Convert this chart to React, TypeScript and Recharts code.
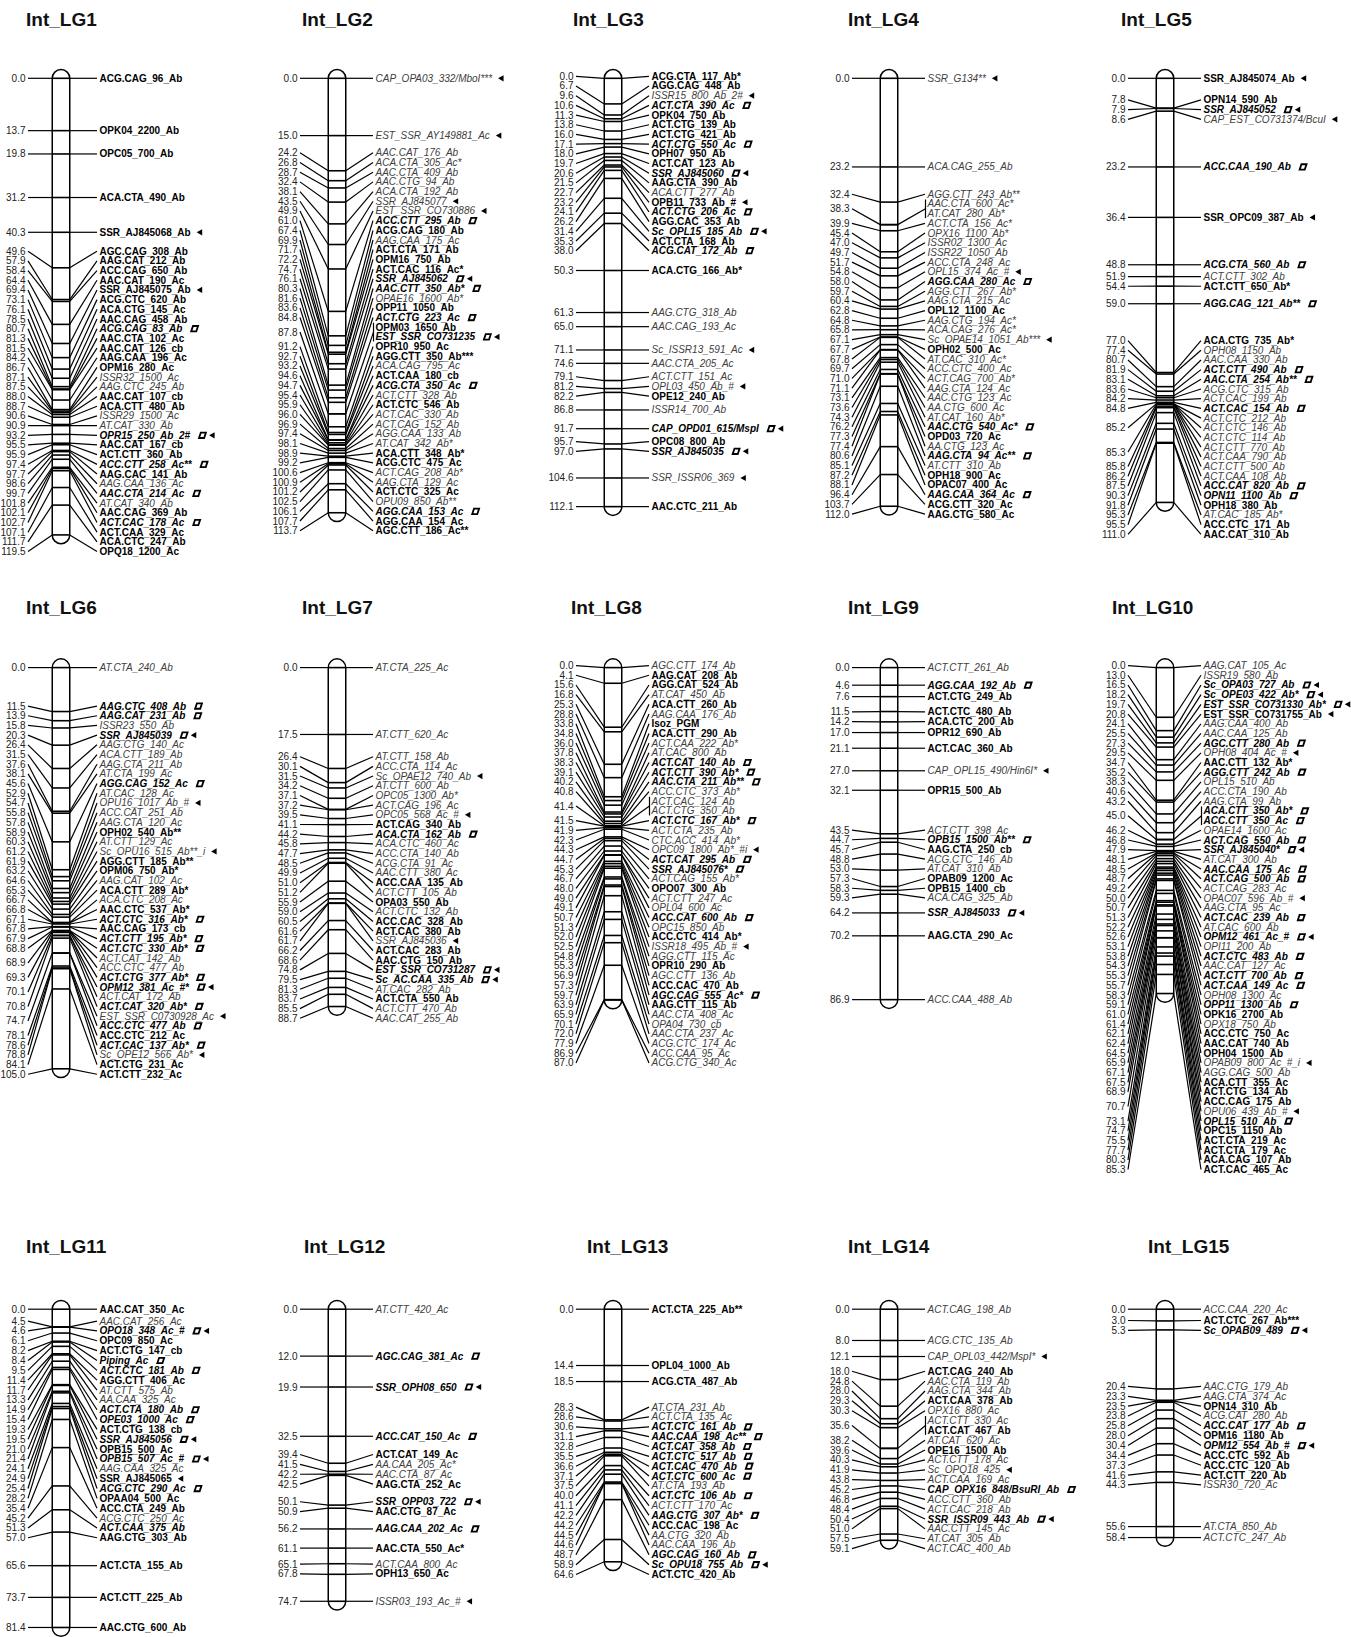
import React from "react";
import { ScatterChart, Scatter, XAxis, YAxis, ReferenceArea } from "recharts";

// Row: [position cM, marker name, marker class (1 = bold, 2 = italic, 3 = bold italic), flags ("s" = square, "t" = triangle), joined-with-previous]
type Row = [number, string, number, string, number?];

const LG1: Row[] = [
  [0.0, "ACG.CAG_96_Ab", 1, ""], [13.7, "OPK04_2200_Ab", 1, ""], [19.8, "OPC05_700_Ab", 1, ""],
  [31.2, "ACA.CTA_490_Ab", 1, ""], [40.3, "SSR_AJ845068_Ab", 1, "t"], [49.6, "AGC.CAG_308_Ab", 1, ""],
  [57.9, "AAG.CAT_212_Ab", 1, ""], [58.4, "ACC.CAG_650_Ab", 1, ""], [64.4, "AAC.CAT_190_Ac", 1, ""],
  [69.4, "SSR_AJ845075_Ab", 1, "t"], [73.1, "ACG.CTC_620_Ab", 1, ""], [76.1, "ACA.CTG_145_Ac", 1, ""],
  [78.5, "AAC.CAG_458_Ab", 1, ""], [80.7, "ACG.CAG_83_Ab", 3, "s"], [81.3, "AAC.CTA_102_Ac", 1, ""],
  [81.5, "AAC.CAT_126_cb", 1, ""], [84.2, "AAG.CAA_196_Ac", 1, ""], [86.7, "OPM16_280_Ac", 1, ""],
  [87.1, "ISSR32_1500_Ac", 2, ""], [87.5, "AAG.CTC_245_Ab", 2, ""], [88.0, "AAC.CAT_107_cb", 1, ""],
  [88.7, "ACA.CTT_480_Ab", 1, ""], [90.6, "ISSR29_1500_Ac", 2, ""], [90.9, "AT.CAT_330_Ab", 2, ""],
  [93.2, "OPR15_250_Ab_2#", 3, "st"], [95.5, "AAC.CAT_167_cb", 1, ""], [95.9, "ACT.CTT_360_Ab", 1, ""],
  [97.4, "ACC.CTT_258_Ac**", 3, "s"], [97.7, "AAG.CAC_141_Ab", 1, ""], [98.6, "AAG.CAA_136_Ac", 2, ""],
  [99.7, "AAC.CTA_214_Ac", 3, "s"], [101.8, "AT.CAT_340_Ab", 2, ""], [102.1, "AAC.CAG_369_Ab", 1, ""],
  [102.7, "ACT.CAC_178_Ac", 3, "s"], [107.1, "ACT.CAA_329_Ac", 1, ""], [111.7, "ACA.CTC_247_Ab", 1, ""],
  [119.5, "OPQ18_1200_Ac", 1, ""],
];

const LG2: Row[] = [
  [0.0, "CAP_OPA03_332/MboI***", 2, "t"], [15.0, "EST_SSR_AY149881_Ac", 2, "t"], [24.2, "AAC.CAT_176_Ab", 2, ""],
  [26.8, "ACA.CTA_305_Ac*", 2, ""], [28.7, "AAC.CTA_409_Ab", 2, ""], [32.4, "AAC.CTG_94_Ab", 2, ""],
  [38.1, "ACA.CTA_192_Ab", 2, ""], [43.5, "SSR_AJ845077", 2, "t"], [49.9, "EST_SSR_CO730886", 2, "t"],
  [61.0, "ACC.CTT_295_Ab", 3, "s"], [67.4, "ACG.CAG_180_Ab", 1, ""], [69.9, "AAG.CAA_175_Ac", 2, ""],
  [71.7, "ACT.CTA_171_Ab", 1, ""], [72.2, "OPM16_750_Ab", 1, ""], [74.7, "ACT.CAC_116_Ac*", 1, ""],
  [76.1, "SSR_AJ845062", 3, "st"], [80.3, "AAC.CTT_350_Ab*", 3, "s"], [81.6, "OPAE16_1600_Ab*", 2, ""],
  [83.6, "OPP11_1050_Ab", 1, ""], [84.8, "ACT.CTG_223_Ac", 3, "s"], [87.8, "OPM03_1650_Ab", 1, ""],
  [87.8, "EST_SSR_CO731235", 3, "st", 1], [91.2, "OPR10_950_Ac", 1, ""], [92.7, "AGG.CTT_350_Ab***", 1, ""],
  [93.2, "ACA.CAG_795_Ac", 2, ""], [94.6, "ACT.CAA_180_cb", 1, ""], [94.7, "ACG.CTA_350_Ac", 3, "s"],
  [95.4, "ACT.CTT_328_Ab", 2, ""], [95.9, "ACT.CTC_546_Ab", 1, ""], [96.0, "ACT.CAC_330_Ab", 2, ""],
  [96.9, "ACT.CAG_152_Ab", 2, ""], [97.4, "AGG.CAA_133_Ab", 2, ""], [98.1, "AT.CAT_342_Ab*", 2, ""],
  [98.9, "ACA.CTT_348_Ab*", 1, ""], [99.2, "ACG.CTC_475_Ac", 1, ""], [100.6, "ACT.CAG_208_Ab*", 2, ""],
  [100.9, "AAG.CTA_129_Ac", 2, ""], [101.2, "ACT.CTC_325_Ac", 1, ""], [102.5, "OPU09_850_Ab**", 2, ""],
  [106.1, "AGG.CAA_153_Ac", 3, "s"], [107.7, "AGG.CAA_154_Ac", 1, ""], [113.7, "AGC.CTT_186_Ac**", 1, ""],
];

const LG3: Row[] = [
  [0.0, "ACG.CTA_117_Ab*", 1, ""], [6.7, "AGG.CAG_448_Ab", 1, ""], [9.6, "ISSR15_800_Ab_2#", 2, "t"],
  [10.6, "ACT.CTA_390_Ac", 3, "s"], [11.3, "OPK04_750_Ab", 1, ""], [13.8, "ACT.CTG_139_Ab", 1, ""],
  [16.0, "ACT.CTG_421_Ab", 1, ""], [17.1, "ACT.CTG_550_Ac", 3, "s"], [18.0, "OPH07_950_Ab", 1, ""],
  [19.7, "ACT.CAT_123_Ab", 1, ""], [20.6, "SSR_AJ845060", 3, "st"], [21.5, "AAG.CTA_390_Ab", 1, ""],
  [22.7, "ACA.CTT_277_Ab", 2, ""], [23.2, "OPB11_733_Ab_#", 1, "t"], [24.1, "ACT.CTG_206_Ac", 3, "s"],
  [26.2, "AGG.CAC_353_Ab", 1, ""], [31.4, "Sc_OPL15_185_Ab", 3, "st"], [35.3, "ACT.CTA_168_Ab", 1, ""],
  [38.0, "ACG.CAT_172_Ab", 3, "s"], [50.3, "ACA.CTG_166_Ab*", 1, ""], [61.3, "AAG.CTG_318_Ab", 2, ""],
  [65.0, "AAC.CAG_193_Ac", 2, ""], [71.1, "Sc_ISSR13_591_Ac", 2, "t"], [74.6, "AAC.CTA_205_Ac", 2, ""],
  [79.1, "ACT.CTT_151_Ac", 2, ""], [81.2, "OPL03_450_Ab_#", 2, "t"], [82.2, "OPE12_240_Ab", 1, ""],
  [86.8, "ISSR14_700_Ab", 2, ""], [91.7, "CAP_OPD01_615/MspI", 3, "st"], [95.7, "OPC08_800_Ab", 1, ""],
  [97.0, "SSR_AJ845035", 3, "st"], [104.6, "SSR_ISSR06_369", 2, "t"], [112.1, "AAC.CTC_211_Ab", 1, ""],
];

const LG4: Row[] = [
  [0.0, "SSR_G134**", 2, "t"], [23.2, "ACA.CAG_255_Ab", 2, ""], [32.4, "AGG.CTT_243_Ab**", 2, ""],
  [38.3, "AAC.CTA_600_Ac*", 2, ""], [38.3, "AT.CAT_280_Ab*", 2, "", 1], [39.9, "ACT.CTA_156_Ac*", 2, ""],
  [45.4, "OPX16_1100_Ab*", 2, ""], [47.0, "ISSR02_1300_Ac", 2, ""], [49.7, "ISSR22_1050_Ab", 2, ""],
  [51.7, "ACC.CTA_248_Ac", 2, ""], [54.8, "OPL15_374_Ac_#", 2, "t"], [58.0, "AGG.CAA_280_Ac", 3, "s"],
  [59.7, "AGG.CTT_267_Ab*", 2, ""], [60.4, "AAG.CTA_215_Ac", 2, ""], [62.8, "OPL12_1100_Ac", 1, ""],
  [64.8, "AAG.CTG_194_Ac*", 2, ""], [65.8, "ACA.CAG_276_Ac*", 2, ""], [67.1, "Sc_OPAE14_1051_Ab***", 2, "t"],
  [67.7, "OPH02_500_Ac", 1, ""], [67.8, "AT.CAC_310_Ac*", 2, ""], [69.7, "ACC.CTC_400_Ac", 2, ""],
  [71.0, "ACT.CAG_700_Ab*", 2, ""], [71.1, "AAG.CTA_124_Ac", 2, ""], [73.1, "AAC.CTG_123_Ac", 2, ""],
  [73.6, "AA.CTG_600_Ac", 2, ""], [74.3, "AT.CAT_160_Ab*", 2, ""], [76.2, "AAC.CTG_540_Ac*", 3, "s"],
  [77.3, "OPD03_720_Ac", 1, ""], [77.4, "AA.CTG_123_Ac", 2, ""], [80.6, "AAG.CTA_94_Ac**", 3, "s"],
  [85.1, "AT.CTT_310_Ab", 2, ""], [87.2, "OPH18_900_Ac", 1, ""], [88.1, "OPAC07_400_Ac", 1, ""],
  [96.4, "AAG.CAA_364_Ac", 3, "s"], [103.7, "ACG.CTT_320_Ac", 1, ""], [112.0, "AAG.CTG_580_Ac", 1, ""],
];

const LG5: Row[] = [
  [0.0, "SSR_AJ845074_Ab", 1, "t"], [7.8, "OPN14_590_Ab", 1, ""], [7.9, "SSR_AJ845052", 3, "st"],
  [8.6, "CAP_EST_CO731374/BcuI", 2, "t"], [23.2, "ACC.CAA_190_Ab", 3, "s"], [36.4, "SSR_OPC09_387_Ab", 1, "t"],
  [48.8, "ACG.CTA_560_Ab", 3, "s"], [51.9, "ACT.CTT_302_Ab", 2, ""], [54.4, "ACT.CTT_650_Ab*", 1, ""],
  [59.0, "AGG.CAG_121_Ab**", 3, "s"], [77.0, "ACA.CTG_735_Ab*", 1, ""], [77.4, "OPH08_1150_Ab", 2, ""],
  [80.7, "AAC.CAA_330_Ab", 2, ""], [81.9, "ACT.CTT_490_Ab", 3, "s"], [83.1, "AAC.CTA_254_Ab**", 3, "s"],
  [83.6, "ACG.CTC_315_Ab", 2, ""], [84.2, "ACT.CAC_199_Ab", 2, ""], [84.8, "ACT.CAC_154_Ab", 3, "s"],
  [85.2, "ACT.CTC_212_Ab", 2, ""], [85.2, "ACT.CTC_146_Ab", 2, ""], [85.2, "ACT.CTC_114_Ab", 2, ""],
  [85.3, "ACT.CTT_770_Ab", 2, ""], [85.3, "ACT.CAA_790_Ab", 2, ""], [85.8, "ACT.CTT_500_Ab", 2, ""],
  [86.2, "ACT.CAA_108_Ab", 2, ""], [87.5, "ACC.CAT_820_Ab", 3, "s"], [90.3, "OPN11_1100_Ab", 3, "s"],
  [91.8, "OPH18_380_Ab", 1, ""], [95.3, "AT.CAC_185_Ab*", 2, ""], [95.5, "ACC.CTC_171_Ab", 1, ""],
  [111.0, "AAC.CAT_310_Ab", 1, ""],
];

const LG6: Row[] = [
  [0.0, "AT.CTA_240_Ab", 2, ""], [11.5, "AAG.CTC_408_Ab", 3, "s"], [13.9, "AAG.CAT_231_Ab", 3, "s"],
  [15.8, "ISSR23_550_Ab", 2, ""], [20.3, "SSR_AJ845039", 3, "st"], [26.4, "AAG.CTG_140_Ac", 2, ""],
  [31.5, "ACA.CTT_189_Ab", 2, ""], [37.6, "AAG.CTA_211_Ab", 2, ""], [38.1, "AT.CTA_199_Ac", 2, ""],
  [45.6, "AGG.CAG_152_Ac", 3, "s"], [52.9, "AT.CAC_128_Ac", 2, ""], [54.7, "OPU16_1017_Ab_#", 2, "t"],
  [55.8, "ACC.CAT_251_Ab", 2, ""], [57.8, "AAG.CTA_120_Ac", 2, ""], [58.9, "OPH02_540_Ab**", 1, ""],
  [60.3, "AT.CTT_129_Ac", 2, ""], [61.2, "Sc_OPU16_515_Ab**_i", 2, "t"], [61.9, "AGG.CTT_185_Ab**", 1, ""],
  [63.2, "OPM06_750_Ab*", 1, ""], [64.6, "AAG.CAT_102_Ac", 2, ""], [65.3, "ACA.CTT_289_Ab*", 1, ""],
  [66.7, "ACA.CTC_208_Ac", 2, ""], [66.8, "AAC.CTC_537_Ab*", 1, ""], [67.1, "ACT.CTC_316_Ab*", 3, "s"],
  [67.8, "AAC.CAG_173_cb", 1, ""], [67.9, "ACT.CTT_195_Ab*", 3, "s"], [68.8, "ACT.CTC_330_Ab*", 3, "s"],
  [68.9, "ACT.CAT_142_Ab", 2, ""], [68.9, "ACC.CTC_477_Ab", 2, ""], [69.3, "ACT.CTG_377_Ab*", 3, "s"],
  [70.1, "OPM12_381_Ac_#*", 3, "st"], [70.1, "ACT.CAT_172_Ab", 2, ""], [70.8, "ACT.CAT_320_Ab*", 3, "s"],
  [74.7, "EST_SSR_C0730928_Ac", 2, "t"], [74.7, "ACC.CTC_477_Ab", 3, "s"], [78.1, "ACC.CTC_212_Ac", 1, ""],
  [78.6, "ACT.CAC_137_Ab*", 3, "s"], [78.8, "Sc_OPE12_566_Ab*", 2, "t"], [84.1, "ACT.CTG_231_Ac", 1, ""],
  [105.0, "ACT.CTT_232_Ac", 1, ""],
];

const LG7: Row[] = [
  [0.0, "AT.CTA_225_Ac", 2, ""], [17.5, "AT.CTT_620_Ac", 2, ""], [26.4, "AT.CTT_158_Ab", 2, ""],
  [30.1, "ACC.CTA_114_Ac", 2, ""], [31.5, "Sc_OPAE12_740_Ab", 2, "t"], [34.2, "AT.CTT_600_Ab", 2, ""],
  [37.1, "OPC05_1300_Ab*", 2, ""], [37.2, "ACT.CAG_196_Ac", 2, ""], [39.5, "OPC05_568_Ac_#", 2, "t"],
  [41.1, "ACT.CAG_340_Ab", 1, ""], [44.2, "ACA.CTA_162_Ab", 3, "s"], [45.8, "ACA.CTC_460_Ac", 2, ""],
  [47.7, "ACC.CTA_140_Ab", 2, ""], [48.5, "ACG.CTA_91_Ac", 2, ""], [49.9, "AAC.CTT_380_Ac", 2, ""],
  [51.0, "ACC.CAA_135_Ab", 1, ""], [51.2, "ACT.CTT_105_Ab", 2, ""], [55.9, "OPA03_550_Ab", 1, ""],
  [59.0, "ACT.CTC_132_Ab", 2, ""], [60.5, "ACC.CAC_328_Ab", 1, ""], [61.6, "ACT.CAC_380_Ab", 1, ""],
  [61.7, "SSR_AJ845036", 2, "t"], [66.2, "ACT.CAC_283_Ab", 1, ""], [68.6, "AAC.CTG_150_Ab", 1, ""],
  [74.8, "EST_SSR_CO731287", 3, "st"], [79.5, "Sc_AC.CAA_335_Ab", 3, "st"], [81.3, "AT.CAC_282_Ab", 2, ""],
  [83.7, "ACT.CTA_550_Ab", 1, ""], [85.5, "ACT.CTT_470_Ab", 2, ""], [88.7, "AAC.CAT_255_Ab", 2, ""],
];

const LG8: Row[] = [
  [0.0, "AGC.CTT_174_Ab", 2, ""], [4.1, "AAG.CAT_208_Ab", 1, ""], [15.6, "AGG.CAT_524_Ab", 1, ""],
  [16.8, "AT.CAT_450_Ab", 2, ""], [25.3, "ACA.CTT_260_Ab", 1, ""], [28.8, "AAG.CAA_176_Ab", 2, ""],
  [33.8, "Isoz_PGM", 1, ""], [34.8, "ACA.CTT_290_Ab", 1, ""], [36.0, "ACT.CAA_222_Ab*", 2, ""],
  [37.8, "AT.CAC_800_Ab", 2, ""], [38.3, "ACT.CAT_140_Ab", 3, "s"], [39.1, "ACT.CTT_390_Ab*", 3, "s"],
  [40.2, "AAC.CTA_211_Ab**", 3, "s"], [40.8, "ACC.CTC_373_Ab*", 2, ""], [41.4, "ACT.CAC_124_Ab", 2, ""],
  [41.4, "ACT.CTG_350_Ab", 2, "", 1], [41.5, "ACT.CTC_167_Ab*", 3, "s"], [41.9, "ACT.CTA_235_Ab", 2, ""],
  [42.3, "CTC.ACC_414_Ab*", 2, ""], [44.3, "OPC09_1800_Ab*_#i", 2, "t"], [44.7, "ACT.CAT_295_Ab", 3, "s"],
  [45.3, "SSR_AJ845076*", 3, "s"], [46.7, "ACT.CAG_155_Ab*", 2, ""], [48.0, "OPO07_300_Ab", 1, ""],
  [49.0, "ACT.CTT_247_Ac", 2, ""], [49.1, "OPL04_600_Ac", 2, ""], [50.7, "ACC.CAT_600_Ab", 3, "s"],
  [51.3, "OPC15_850_Ab", 2, ""], [52.0, "ACC.CTC_414_Ab*", 1, ""], [52.5, "ISSR18_495_Ab_#", 2, "t"],
  [54.8, "AGG.CTT_115_Ac", 2, ""], [55.3, "OPR10_290_Ab", 1, ""], [56.9, "AGC.CTT_136_Ab", 2, ""],
  [57.3, "ACC.CAC_470_Ab", 1, ""], [59.7, "AGC.CAG_555_Ac*", 3, "s"], [63.9, "AAG.CTT_115_Ab", 1, ""],
  [65.9, "AAC.CTA_408_Ac", 2, ""], [70.1, "OPA04_730_cb", 2, ""], [72.0, "AAC.CTA_237_Ac", 2, ""],
  [77.9, "ACG.CTC_174_Ac", 2, ""], [86.9, "ACC.CAA_95_Ac", 2, ""], [87.0, "ACG.CTG_340_Ac", 2, ""],
];

const LG9: Row[] = [
  [0.0, "ACT.CTT_261_Ab", 2, ""], [4.6, "AGG.CAA_192_Ab", 3, "s"], [7.6, "ACT.CTG_249_Ab", 1, ""],
  [11.5, "ACT.CTC_480_Ab", 1, ""], [14.2, "ACA.CTC_200_Ab", 1, ""], [17.0, "OPR12_690_Ab", 1, ""],
  [21.1, "ACT.CAC_360_Ab", 1, ""], [27.0, "CAP_OPL15_490/Hin6I*", 2, "t"], [32.1, "OPR15_500_Ab", 1, ""],
  [43.5, "ACT.CTT_398_Ac", 2, ""], [44.7, "OPB15_1500_Ab**", 3, "s"], [45.7, "AAG.CTA_250_cb", 1, ""],
  [48.8, "ACG.CTC_146_Ab", 2, ""], [53.0, "AT.CAT_310_Ab", 2, ""], [57.3, "OPAB09_1200_Ac", 1, ""],
  [58.3, "OPB15_1400_cb", 1, ""], [59.3, "ACA.CAG_325_Ab", 2, ""], [64.2, "SSR_AJ845033", 3, "st"],
  [70.2, "AAG.CTA_290_Ac", 1, ""], [86.9, "ACC.CAA_488_Ab", 2, ""],
];

const LG10: Row[] = [
  [0.0, "AAG.CAT_105_Ac", 2, ""], [13.0, "ISSR19_580_Ab", 2, ""], [16.5, "Sc_OPA03_727_Ab", 3, "st"],
  [18.2, "Sc_OPE03_422_Ab*", 3, "st"], [19.7, "EST_SSR_CO731330_Ab*", 3, "st"], [20.8, "EST_SSR_CO731755_Ab", 1, "t"],
  [24.1, "AAG.CAA_400_Ab", 2, ""], [25.5, "AAC.CAA_125_Ab", 2, ""], [27.3, "AGC.CTT_280_Ab", 3, "s"],
  [29.5, "OPH08_404_Ac_#", 2, "t"], [34.7, "AAC.CTT_132_Ab*", 1, ""], [35.2, "AGG.CTT_242_Ab", 3, "s"],
  [38.3, "OPL15_510_Ab", 2, ""], [40.6, "ACC.CTA_190_Ab", 2, ""], [43.2, "AAG.CTA_99_Ab", 2, ""],
  [45.0, "ACA.CTT_350_Ab*", 3, "s"], [45.0, "ACC.CTT_350_Ac", 3, "s", 1], [46.2, "OPAE14_1600_Ac", 2, ""],
  [46.8, "ACT.CAG_550_Ab", 3, "s"], [47.9, "SSR_AJ845040*", 3, "st"], [48.1, "AT.CAT_300_Ab", 2, ""],
  [48.5, "AAC.CAA_175_Ac", 3, "s"], [48.7, "ACT.CAG_500_Ab", 3, "s"], [49.2, "ACT.CAG_283_Ac", 2, ""],
  [50.0, "OPAC07_596_Ab_#", 2, "t"], [50.7, "AAG.CTA_95_Ac", 2, ""], [51.3, "ACT.CAC_239_Ab", 3, "s"],
  [52.2, "AT.CAC_600_Ab", 2, ""], [52.6, "OPM12_461_Ac_#", 3, "st"], [53.1, "OPI11_200_Ab", 2, ""],
  [53.8, "ACT.CTC_483_Ab", 3, "s"], [54.3, "AAC.CAT_127_Ac", 2, ""], [55.3, "ACT.CTT_700_Ab", 3, "s"],
  [55.7, "ACT.CAA_149_Ac", 3, "s"], [58.3, "OPH08_1300_Ac", 2, ""], [59.1, "OPP11_1300_Ab", 3, "s"],
  [61.0, "OPK16_2700_Ab", 1, ""], [61.4, "OPX18_750_Ab", 2, ""], [62.1, "ACC.CTC_750_Ac", 1, ""],
  [62.4, "AAC.CAT_740_Ab", 1, ""], [64.5, "OPH04_1500_Ab", 1, ""], [65.9, "OPAB09_800_Ac_#_i", 2, "t"],
  [67.1, "AGG.CAG_500_Ab", 2, ""], [67.5, "ACA.CTT_355_Ac", 1, ""], [68.9, "ACT.CTG_134_Ab", 1, ""],
  [70.7, "ACC.CAG_175_Ab", 1, ""], [70.7, "OPU06_439_Ab_#", 2, "t"], [73.1, "OPL15_510_Ab", 3, "s"],
  [74.7, "OPC15_1150_Ab", 1, ""], [75.5, "ACT.CTA_219_Ac", 1, ""], [77.7, "ACT.CTA_179_Ac", 1, ""],
  [80.3, "ACA.CAG_107_Ab", 1, ""], [85.3, "ACT.CAC_465_Ac", 1, ""],
];

const LG11: Row[] = [
  [0.0, "AAC.CAT_350_Ac", 1, ""], [4.5, "AAC.CAT_256_Ac", 2, ""], [4.6, "OPO18_348_Ac_#", 3, "st"],
  [6.1, "OPC09_850_Ac", 1, ""], [8.2, "ACT.CTG_147_cb", 1, ""], [8.4, "Piping_Ac", 3, "s"],
  [9.5, "ACT.CTC_181_Ab", 3, "s"], [11.4, "AGG.CTT_406_Ac", 1, ""], [11.7, "AT.CTT_575_Ab", 2, ""],
  [13.3, "AA.CAA_325_Ac", 2, ""], [14.9, "ACT.CTA_180_Ab", 3, "s"], [15.4, "OPE03_1000_Ac", 3, "s"],
  [19.3, "ACT.CTG_138_cb", 1, ""], [19.5, "SSR_AJ845056", 3, "st"], [21.0, "OPB15_500_Ac", 1, ""],
  [21.4, "OPB15_507_Ac_#", 3, "st"], [24.1, "AAG.CAA_325_Ac", 2, ""], [24.9, "SSR_AJ845065", 1, "t"],
  [25.4, "ACG.CTC_290_Ac", 3, "s"], [28.2, "OPAA04_500_Ac", 1, ""], [35.4, "ACC.CTA_249_Ab", 1, ""],
  [45.2, "ACG.CTC_250_Ac", 2, ""], [51.3, "ACT.CAA_375_Ab", 3, ""], [57.0, "AAG.CTG_303_Ab", 1, ""],
  [65.6, "ACT.CTA_155_Ab", 1, ""], [73.7, "ACT.CTT_225_Ab", 1, ""], [81.4, "AAC.CTG_600_Ab", 1, ""],
];

const LG12: Row[] = [
  [0.0, "AT.CTT_420_Ac", 2, ""], [12.0, "AGC.CAG_381_Ac", 3, "s"], [19.9, "SSR_OPH08_650", 3, "st"],
  [32.5, "ACC.CAT_150_Ac", 3, "s"], [39.4, "ACT.CAT_149_Ac", 1, ""], [41.5, "AA.CAA_205_Ac*", 2, ""],
  [42.2, "AAC.CTA_87_Ac", 2, ""], [42.5, "AAG.CTA_252_Ac", 1, ""], [50.1, "SSR_OPP03_722", 3, "st"],
  [50.9, "AAC.CTG_87_Ac", 1, ""], [56.2, "AAG.CAA_202_Ac", 3, "s"], [61.1, "AAC.CTA_550_Ac*", 1, ""],
  [65.1, "ACT.CAA_800_Ac", 2, ""], [67.8, "OPH13_650_Ac", 1, ""], [74.7, "ISSR03_193_Ac_#", 2, "t"],
];

const LG13: Row[] = [
  [0.0, "ACT.CTA_225_Ab**", 1, ""], [14.4, "OPL04_1000_Ab", 1, ""], [18.5, "ACG.CTA_487_Ab", 1, ""],
  [28.3, "AT.CTA_231_Ab", 2, ""], [28.6, "ACT.CTA_135_Ac", 2, ""], [30.6, "ACT.CTC_161_Ab", 3, "s"],
  [31.1, "AAC.CAA_198_Ac**", 3, "s"], [32.8, "ACT.CAT_358_Ab", 3, "s"], [35.5, "ACT.CTC_517_Ab", 3, "s"],
  [36.6, "ACT.CAC_470_Ab", 3, "s"], [37.1, "ACT.CTC_600_Ac", 3, "s"], [37.5, "AT.CTA_193_Ab", 2, ""],
  [40.0, "ACT.CTC_106_Ab", 3, "s"], [41.1, "ACT.CTT_170_Ac", 2, ""], [42.2, "AAG.CTG_307_Ab*", 3, "s"],
  [44.2, "ACC.CAC_198_Ac", 1, ""], [44.5, "AA.CTG_320_Ab", 2, ""], [44.6, "AAC.CAA_196_Ab", 2, ""],
  [48.7, "AGC.CAG_160_Ab", 3, "s"], [58.9, "Sc_OPU18_755_Ab", 3, "st"], [64.6, "ACT.CTC_420_Ab", 1, ""],
];

const LG14: Row[] = [
  [0.0, "ACT.CAG_198_Ab", 2, ""], [8.0, "ACG.CTC_135_Ab", 2, ""], [12.1, "CAP_OPL03_442/MspI*", 2, "t"],
  [18.0, "ACT.CAG_240_Ab", 1, ""], [24.8, "AAC.CTA_119_Ab", 2, ""], [28.0, "AAG.CTA_344_Ab", 2, ""],
  [29.3, "ACT.CAA_378_Ab", 1, ""], [30.3, "OPX16_880_Ac", 2, ""], [35.6, "ACT.CTT_330_Ac", 2, ""],
  [35.6, "ACT.CAT_467_Ab", 1, "", 1], [38.2, "AT.CAT_620_Ac", 2, ""], [39.6, "OPE16_1500_Ab", 1, ""],
  [40.3, "ACT.CTT_178_Ac", 2, ""], [41.9, "Sc_OPQ18_425", 2, "t"], [43.8, "ACT.CAA_169_Ac", 2, ""],
  [45.2, "CAP_OPX16_848/BsuRI_Ab", 3, "s"], [46.8, "ACC.CTT_360_Ab", 2, ""], [48.4, "ACT.CAC_218_Ab", 2, ""],
  [50.4, "SSR_ISSR09_443_Ab", 3, "st"], [51.0, "AAC.CTT_145_Ac", 2, ""], [57.5, "AT.CAT_305_Ab", 2, ""],
  [59.1, "ACT.CAC_400_Ab", 2, ""],
];

const LG15: Row[] = [
  [0.0, "ACC.CAA_220_Ac", 2, ""], [3.0, "ACT.CTC_267_Ab***", 1, ""], [5.3, "Sc_OPAB09_489", 3, "st"],
  [20.4, "AAC.CTG_179_Ab", 2, ""], [23.3, "AAG.CTA_374_Ac", 2, ""], [23.5, "OPN14_310_Ab", 1, ""],
  [23.8, "ACG.CAT_280_Ab", 2, ""], [25.8, "ACC.CAT_177_Ab", 3, "s"], [28.0, "OPM16_1180_Ab", 1, ""],
  [30.4, "OPM12_554_Ab_#", 3, "st"], [34.4, "ACC.CTC_592_Ab", 1, ""], [37.3, "ACC.CTC_120_Ab", 1, ""],
  [41.6, "ACT.CTT_220_Ab", 1, ""], [44.3, "ISSR30_720_Ac", 2, ""], [55.6, "AT.CTA_850_Ab", 2, ""],
  [58.4, "ACT.CTC_247_Ab", 2, ""],
];

const GROUP_TITLES = [
  "Int_LG1", "Int_LG2", "Int_LG3", "Int_LG4", "Int_LG5",
  "Int_LG6", "Int_LG7", "Int_LG8", "Int_LG9", "Int_LG10",
  "Int_LG11", "Int_LG12", "Int_LG13", "Int_LG14", "Int_LG15",
];
const GROUP_ROWS = [LG1, LG2, LG3, LG4, LG5, LG6, LG7, LG8, LG9, LG10, LG11, LG12, LG13, LG14, LG15];

// ---------- layout ----------
const PAGE_W = 1351;
const PAGE_H = 1637;
const FONT = "'Liberation Sans', Arial, Helvetica, sans-serif";
const COL_X = [60.5, 336.7, 612.9, 889.1, 1165.3];
const ROWS = [
  { top: 30, h: 560, y0: 78.3, k: 3.821, sp: 9.69, titleY: 25.5 },
  { top: 630, h: 580, y0: 667.6, k: 3.821, sp: 9.69, titleY: 613.5 },
  { top: 1265, h: 372, y0: 1309.2, k: 3.91, sp: 9.85, titleY: 1253 },
];
const TITLE_DX = [-35, -35, -40, -41, -44, -35, -35, -42, -41, -53, -35, -33, -26, -41, -17];
const CHART_W = 300;
const BX = 80; // chromosome centre inside each chart
const HW = 8.75; // chromosome half width
const MERGE_MARGIN = 1;

const CLASS_STYLE: Record<number, { weight: string; style: string; fill: string }> = {
  1: { weight: "bold", style: "normal", fill: "#000" },
  2: { weight: "normal", style: "italic", fill: "#404040" },
  3: { weight: "bold", style: "italic", fill: "#000" },
};

let measureCtx: CanvasRenderingContext2D | null = null;
function textWidth(s: string, cls: number): number {
  if (!measureCtx) measureCtx = document.createElement("canvas").getContext("2d");
  const st = CLASS_STYLE[cls];
  if (!measureCtx) return s.length * 6;
  measureCtx.font = `${st.style === "italic" ? "italic " : ""}${st.weight === "bold" ? "bold " : ""}10px 'Liberation Sans'`;
  return measureCtx.measureText(s).width;
}

// label de-overlap: groups centred on the midpoint of their true range,
// built bottom-up (pool adjacent violators), then clamped at the top.
function spreadLabels(ys: number[], sp: number, minTop: number): number[] {
  const topOf = (a: number, b: number) => {
    const t = (ys[a] + ys[b]) / 2 - ((b - a) * sp) / 2;
    return t < minTop ? minTop : t;
  };
  const botOf = (a: number, b: number) => topOf(a, b) + (b - a) * sp;
  const need = sp + MERGE_MARGIN;
  const stack: [number, number][] = [];
  for (let i = ys.length - 1; i >= 0; i--) {
    let g: [number, number] = [i, i];
    while (stack.length) {
      const below = stack[stack.length - 1];
      if (botOf(g[0], g[1]) + need > topOf(below[0], below[1])) {
        g = [g[0], below[1]];
        stack.pop();
      } else break;
    }
    stack.push(g);
  }
  const groups = stack.reverse();
  let changed = true;
  while (changed) {
    changed = false;
    for (let i = 0; i < groups.length - 1; i++) {
      const [a1, b1] = groups[i];
      const [a2, b2] = groups[i + 1];
      if (topOf(a2, b2) < botOf(a1, b1) + sp - 1e-6) {
        groups.splice(i, 2, [a1, b2]);
        changed = true;
        break;
      }
    }
  }
  const out: number[] = new Array(ys.length).fill(0);
  groups.forEach(([a, b]) => {
    const t = topOf(a, b);
    for (let i = a; i <= b; i++) out[i] = t + (i - a) * sp;
  });
  return out;
}

function buildPoints(rows: Row[], k: number, sp: number, col: number) {
  const ys = rows.map((r) => r[0] * k);
  const lab = spreadLabels(ys, sp, -2);
  const pts: any[] = [];
  let i = 0;
  while (i < rows.length) {
    let j = i;
    while (j + 1 < rows.length && rows[j + 1][0] === rows[i][0]) j++;
    const bracket = rows.slice(i, j + 1).some((r) => r[4] === 1);
    const mid = (lab[i] + lab[j]) / 2;
    for (let m = i; m <= j; m++) {
      pts.push({
        x: BX,
        y: rows[m][0],
        name: rows[m][1],
        cls: rows[m][2],
        flags: rows[m][3],
        first: m === i,
        bracket,
        numShift: col === 0 ? 4 : 0,
        dLab: lab[m] - ys[m],
        dNum: mid - ys[m],
        dTop: lab[i] - ys[m],
        dBot: lab[j] - ys[m],
      });
    }
    i = j + 1;
  }
  return pts;
}

function SquareIcon({ x, y }: { x: number; y: number }) {
  const pts = `${x + 0.9},${y + 2.7} ${x + 2.7},${y - 2.7} ${x + 7.8},${y - 2.7} ${x + 6.0},${y + 2.7}`;
  return <polygon points={pts} fill="#fff" stroke="#000" strokeWidth={1.8} />;
}

function TriIcon({ x, y }: { x: number; y: number }) {
  return <polygon points={`${x},${y} ${x + 5.5},${y - 3.1} ${x + 5.5},${y + 3.1}`} fill="#000" />;
}

function MarkerShape(props: any) {
  const { cx, cy, payload } = props;
  if (cx == null || cy == null || !payload) return <g />;
  const d = payload;
  const st = CLASS_STYLE[d.cls];
  const ly = cy + d.dLab;
  const labX = cx + 38.5;
  const els: React.ReactNode[] = [];
  els.push(<line key="c" x1={cx - HW} x2={cx + HW} y1={cy} y2={cy} stroke="#000" strokeWidth={1.6} />);
  if (d.first) {
    const ny = cy + d.dNum;
    els.push(<line key="l" x1={cx - 37 + d.numShift} y1={ny} x2={cx - HW} y2={cy} stroke="#000" strokeWidth={1.2} />);
    els.push(
      <text key="n" x={cx - 39.5 + d.numShift} y={ny + 3.5} textAnchor="end" fontSize={10} fontFamily={FONT} fill="#222">
        {d.y.toFixed(1)}
      </text>
    );
  }
  if (d.bracket) {
    if (d.first) {
      const ny = cy + d.dNum;
      els.push(<line key="r" x1={cx + HW} y1={cy} x2={cx + 36.5} y2={ny} stroke="#000" strokeWidth={1.2} />);
      els.push(
        <line key="br" x1={cx + 36.5} x2={cx + 36.5} y1={cy + d.dTop - 4.5} y2={cy + d.dBot + 4.5} stroke="#000" strokeWidth={1.2} />
      );
    }
  } else {
    els.push(<line key="r" x1={cx + HW} y1={cy} x2={cx + 36} y2={ly} stroke="#000" strokeWidth={1.2} />);
  }
  els.push(
    <text
      key="t"
      x={labX}
      y={ly + 3.5}
      fontSize={10}
      fontFamily={FONT}
      fontWeight={st.weight}
      fontStyle={st.style}
      fill={st.fill}
    >
      {d.name}
    </text>
  );
  if (d.flags) {
    const w = textWidth(d.name, d.cls);
    let ix = labX + w + 8;
    if (d.flags.includes("s")) {
      els.push(<SquareIcon key="s" x={ix} y={ly} />);
      ix += 11;
    } else {
      ix = labX + w + 6;
    }
    if (d.flags.includes("t")) els.push(<TriIcon key="tr" x={ix} y={ly} />);
  }
  return <g>{els}</g>;
}

function BarShape(p: any) {
  if (p.x == null) return <g />;
  return (
    <rect
      x={p.x}
      y={p.y - HW}
      width={p.width}
      height={p.height + 2 * HW}
      rx={HW}
      ry={HW}
      fill="none"
      stroke="#000"
      strokeWidth={1.5}
    />
  );
}

function LinkageGroup({ idx }: { idx: number }) {
  const rows = GROUP_ROWS[idx];
  const row = ROWS[Math.floor(idx / 5)];
  const col = idx % 5;
  const X = COL_X[col];
  const len = rows[rows.length - 1][0];
  const pts = buildPoints(rows, row.k, row.sp, col);
  const mt = row.y0 - row.top;
  const plotH = len * row.k;
  const mb = row.h - mt - plotH;
  return (
    <>
      <div style={{ position: "absolute", left: X - BX, top: row.top }}>
        <ScatterChart width={CHART_W} height={row.h} margin={{ top: mt, right: 0, bottom: mb, left: 0 }}>
          <XAxis type="number" dataKey="x" domain={[0, CHART_W]} hide />
          <YAxis type="number" dataKey="y" domain={[0, len]} reversed hide />
          <ReferenceArea x1={BX - HW} x2={BX + HW} y1={0} y2={len} shape={BarShape} ifOverflow="visible" />
          <Scatter data={pts} isAnimationActive={false} shape={MarkerShape} />
        </ScatterChart>
      </div>
      <svg
        style={{ position: "absolute", left: X + TITLE_DX[idx], top: row.titleY - 22 }}
        width={120}
        height={28}
      >
        <text x={0} y={22} fontSize={19} fontWeight="bold" fontFamily={FONT} fill="#111">
          {GROUP_TITLES[idx]}
        </text>
      </svg>
    </>
  );
}

export default function App() {
  return (
    <div
      style={{
        position: "absolute",
        left: 0,
        top: 0,
        width: PAGE_W,
        height: PAGE_H,
        overflow: "hidden",
        background: "#fff",
      }}
    >
      {GROUP_ROWS.map((_, i) => (
        <LinkageGroup key={i} idx={i} />
      ))}
    </div>
  );
}
